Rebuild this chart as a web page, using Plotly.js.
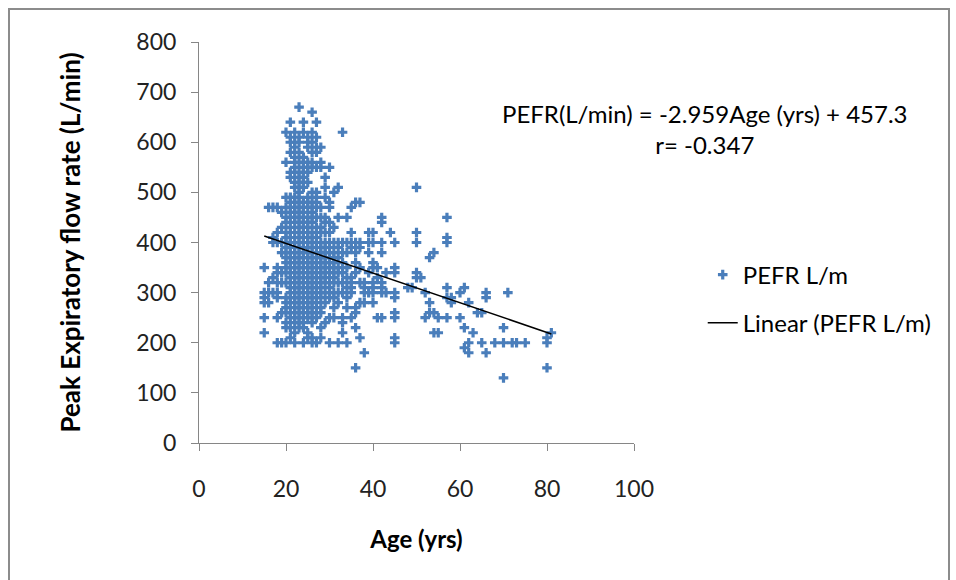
<!DOCTYPE html>
<html>
<head>
<meta charset="utf-8">
<script src="https://cdn.plot.ly/plotly-3.0.1.min.js"></script>
<style>
  html, body { margin: 0; padding: 0; background: #fff; }
  #wrap { position: relative; width: 956px; height: 580px; }
  #chart { width: 956px; height: 580px; }
  #frame { position: absolute; left: 8px; top: 8px; width: 938px; height: 580px;
           border: 2px solid #8c8c8c; border-bottom: none; pointer-events: none; }
</style>
</head>
<body>
<div id="wrap"><div id="chart"></div><div id="frame"></div></div>
<script>
// ---- Data ----
const ageGroups = [15,16,17,18,19,20,21,22,23,24,25,26,27,28,29,30,31,32,33,34,35,36,37,38,39,40,41,42,43,44,45,48,49,50,51,52,53,54,55,57,58,60,61,62,63,64,65,66,68,70,71,72,73,75,80,81];
const pefrByAge = [
  [350,300,290,280,250,220],                                   // 15
  [470,320,300,280],                                           // 16
  [470,410,400,330,300],                                       // 17
  [470,420,400,350,340,320,300,290,250,200],                   // 18
  [460,430,400,380,340,320,260,200],                           // 19
  [620,560,490,470,450,440,420,410,400,390,380,370,360,350,340,320,290,280,270,260,240,230,200], // 20
  [640,610,600,580,540,530,490,480,470,460,450,430,420,410,400,390,380,370,360,350,340,330,320,310,300,290,280,260,250,230,210], // 21
  [620,600,590,570,560,550,540,520,510,490,480,470,460,450,440,420,400,390,380,370,360,350,340,330,320,310,300,290,280,270,260,250,240,220,200], // 22
  [670,610,600,580,560,540,530,520,510,500,490,480,470,460,450,440,430,420,410,400,390,380,370,360,350,340,330,320,310,300,290,280,270,260,250,240,230], // 23
  [640,620,570,560,550,540,530,520,510,480,470,460,450,440,430,420,410,400,390,380,370,360,350,340,330,320,310,300,290,280,270,260,250,240,230,200], // 24
  [610,600,590,560,550,540,520,490,480,470,450,440,430,420,410,400,390,380,370,360,350,340,330,320,310,300,290,280,270,260,250,220,210], // 25
  [660,620,600,580,560,550,500,480,470,460,450,440,420,410,400,390,380,370,360,350,340,330,320,310,300,290,280,270,260,250,240,210,200], // 26
  [640,610,590,580,550,500,490,480,470,450,430,420,410,400,390,380,370,360,350,340,330,320,310,300,290,280,260,250,200], // 27
  [590,560,550,470,450,430,420,400,390,380,370,360,350,340,330,320,310,300,290,270,260,230,210], // 28
  [530,510,490,450,440,420,400,390,380,370,360,350,340,330,320,300,280,240], // 29
  [550,480,470,440,420,400,390,380,370,360,350,340,320,310,300,290,250,200], // 30
  [500,430,400,380,370,360,350,340,330,320,300,290,270,250],   // 31
  [510,450,400,390,370,350,340,320,300,280,200],               // 32
  [620,400,380,360,340,320,300,250,240,220],                   // 33
  [450,400,380,350,330,310,290,270,200],                       // 34
  [470,420,400,390,330,320,310,300,250],                       // 35
  [480,400,390,380,360,340,270,260,230,150],                   // 36
  [480,400,390,350,320,280,210],                               // 37
  [320,310,300,280,180],                                       // 38
  [420,400,380,340,300],                                       // 39
  [420,400,360,350,320,310,300,280],                           // 40
  [350,330,250],                                               // 41
  [450,440,400,380,320,310,300,250],                           // 42
  [340,300],                                                   // 43
  [420],                                                       // 44
  [400,350,340,300,290,260,250,210,200],                       // 45
  [310],                                                       // 48
  [310],                                                       // 49
  [510,420,400,340,330],                                       // 50
  [330],                                                       // 51
  [300,250],                                                   // 52
  [370,280,260],                                               // 53
  [380,260,220],                                               // 54
  [250,220],                                                   // 55
  [450,410,400,310,290,250],                                   // 57
  [290,280],                                                   // 58
  [300,250],                                                   // 60
  [310,230,190],                                               // 61
  [280,200,180],                                               // 62
  [220],                                                       // 63
  [260],                                                       // 64
  [260,200],                                                   // 65
  [300,290,180],                                               // 66
  [200],                                                       // 68
  [230,200,130],                                               // 70
  [300],                                                       // 71
  [200],                                                       // 72
  [200],                                                       // 73
  [200],                                                       // 75
  [210,200,150],                                               // 80
  [220]                                                        // 81
];
const trendSlope = -2.959;
const trendIntercept = 457.3;
const xTicks = [0,20,40,60,80,100];
const yTicks = [0,100,200,300,400,500,600,700,800];
const seriesName = 'PEFR L/m';
const trendName = 'Linear (PEFR L/m)';
const equationText = 'PEFR(L/min) = -2.959Age (yrs) + 457.3';
const rText = 'r= -0.347';

// ---- Build traces ----
const ages = [], pefr = [];
ageGroups.forEach((a, i) => pefrByAge[i].forEach(v => { ages.push(a); pefr.push(v); }));
const minAge = Math.min(...ages), maxAge = Math.max(...ages);
const trendX = [minAge, maxAge];
const trendY = trendX.map(a => trendSlope * a + trendIntercept);

const FONT = 'Lato, "Open Sans", sans-serif';

const scatter = {
  x: ages, y: pefr, type: 'scatter', mode: 'markers', name: seriesName,
  legendgroup: 'a',
  marker: { symbol: 'cross', size: 8, color: '#4a7ebb', line: { width: 0 } }
};
const trend = {
  x: trendX, y: trendY, type: 'scatter', mode: 'lines', name: trendName,
  legendgroup: 'b',
  line: { color: '#000', width: 1.5 }
};

const axisCommon = {
  showgrid: false, zeroline: false, showline: true, linecolor: '#868686', linewidth: 1,
  ticks: 'outside', ticklen: 7, tickcolor: '#868686', tickwidth: 1,
  tickfont: { family: FONT, size: 23, color: '#222' }
};

const layout = {
  width: 956, height: 580,
  margin: { l: 199, r: 322, t: 42, b: 137 },
  paper_bgcolor: '#fff', plot_bgcolor: '#fff',
  showlegend: true,
  legend: {
    x: 1.158, y: 0.475, xanchor: 'left', yanchor: 'top',
    traceorder: 'grouped', tracegroupgap: 14,
    font: { family: FONT, size: 24, color: '#000' },
    bgcolor: 'rgba(0,0,0,0)'
  },
  xaxis: Object.assign({}, axisCommon, {
    range: [0, 100], tickvals: xTicks, ticklabelstandoff: 18,
    title: { text: 'Age (yrs)', font: { family: FONT, size: 24, color: '#000', weight: 'bold' }, standoff: 30 }
  }),
  yaxis: Object.assign({}, axisCommon, {
    range: [0, 800], tickvals: yTicks, ticklabelstandoff: 10,
    title: { text: 'Peak Expiratory flow rate (L/min)', font: { family: FONT, size: 26, color: '#000', weight: 'bold' }, standoff: 48 }
  }),
  annotations: [{
    xref: 'paper', yref: 'paper', x: 1.163, y: 0.783, xanchor: 'center', yanchor: 'middle',
    text: equationText + '<br>' + rText, showarrow: false, align: 'center',
    font: { family: FONT, size: 24, color: '#000' }
  }]
};

Plotly.newPlot('chart', [scatter, trend], layout, { displayModeBar: false, staticPlot: true });
</script>
</body>
</html>
